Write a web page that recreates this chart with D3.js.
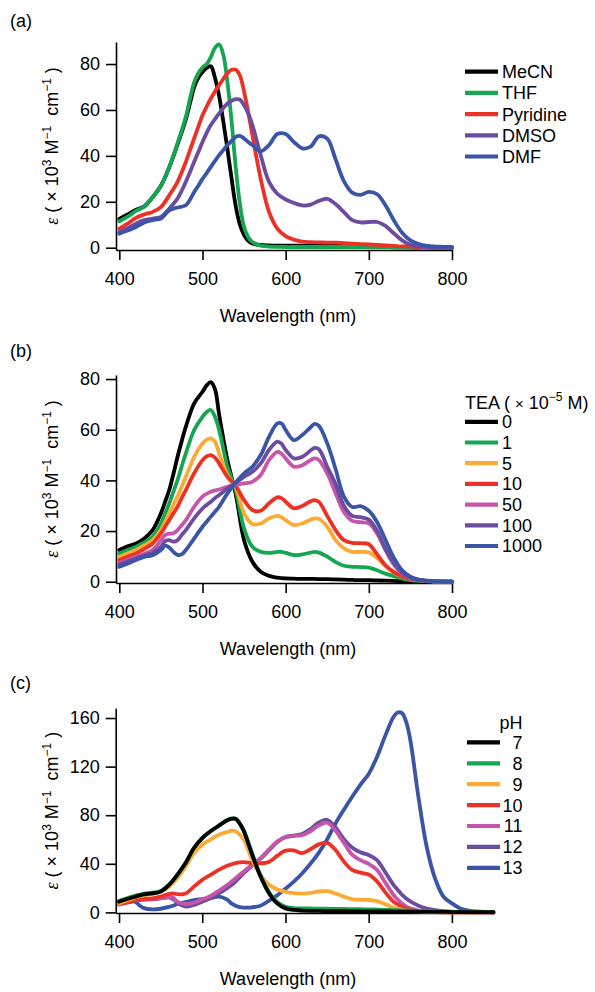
<!DOCTYPE html>
<html>
<head>
<meta charset="utf-8">
<script src="https://cdnjs.cloudflare.com/ajax/libs/d3/7.8.5/d3.min.js"></script>
<style>
  body { margin: 0; background: #fff; }
  svg { display: block; font-family: "Liberation Sans", Arial, sans-serif; }
</style>
</head>
<body>
<svg id="chart" width="595" height="992"></svg>
<script>
// ---------- data ----------
const xTicks = [400, 500, 600, 700, 800];
const yTicksA = [0, 20, 40, 60, 80];
const yTicksB = [0, 20, 40, 60, 80];
const yTicksC = [0, 40, 80, 120, 160];

// (a) solvents
const solventNames = ["MeCN", "THF", "Pyridine", "DMSO", "DMF"];
const wlA = [400,410,420,430,440,450,460,470,480,485,490,495,500,505,510,515,520,525,530,535,540,545,550,555,560,
  570,580,590,600,610,620,630,640,650,660,670,680,690,700,710,720,730,740,750,760,770,780,790,800];
const mecn = [12.5,14.5,16.5,18,22,27,35,45,56,63,70,74,76.5,78.3,79,74,66,55,43,30,18,10,5.5,3,1.8,
  1.2,1.0,0.9,0.9,0.9,0.9,0.9,0.9,0.8,0.8,0.7,0.6,0.5,0.4,0.3,0.3,0.2,0.2,0.1,0.1,0.1,0,0,0];
const thf = [11.5,13.5,16,18,22,27,35,45.5,57,65,72,76,78.5,80,83,87,88.5,84,72,55,35,19,9,4.5,2.5,
  0.9,0.5,0.4,0.3,0.3,0.3,0.3,0.3,0.3,0.3,0.3,0.3,0.3,0.2,0.2,0.2,0.2,0.1,0.1,0.1,0,0,0,0];
const pyridine = [8.3,10.5,13,14.5,15.6,17.7,22.8,28.7,37.4,42.5,47.6,52.7,57.7,61.5,65,68,70.8,73.5,76,77.5,77.5,75,68,59,49,
  30,15.6,8.3,5,3.5,2.6,2.4,2.3,2.2,2.2,2,1.8,1.6,1.4,1.2,1,0.8,0.6,0.5,0.3,0.2,0.1,0,0];
const dmso = [6.8,8.5,10.5,12,12.7,13.4,17,21.4,28.7,33,37.4,41.7,46,50,53.4,56,58.5,60.8,62.8,64,64.7,64.5,62,58.5,53.4,
  40.3,28.7,23.5,21,19.5,18.4,18.8,20.4,21.3,19,15.5,12,11,11.2,11.2,9.5,6.3,3.2,1.3,0.5,0.3,0.2,0.1,0];
const dmf = [6.1,7.5,9,11,12,12.7,16.3,17.5,18.5,21,24.3,27,30,32.5,35.2,37.8,40.3,42.5,44.7,46.5,48.3,48.7,47.6,46,44.7,
  42,44.7,49.5,49.5,46,43.3,44,48.5,47.5,38.5,29,24,23,24.3,23.3,18.5,12,6.5,3.2,1.6,0.8,0.5,0.4,0.3];

// (b) TEA titration (x10^-5 M)
const teaNames = ["0", "1", "5", "10", "50", "100", "1000"];
const wlB = [400,410,420,430,440,450,455,460,465,470,475,480,490,500,505,510,515,520,530,540,550,560,570,580,590,595,
  600,610,620,630,635,640,650,660,670,680,690,700,710,720,730,740,750,760,770,780,790,800];
const tea0 = [12.5,14,15.1,17.1,20.4,27,31.5,36.2,42.5,49.3,55.5,61.2,70.4,75,77.5,78.8,76,66,48,34.5,16.4,7.9,3.9,2.3,1.6,1.4,
  1.3,1.2,1.1,1.1,1.1,1.0,1.0,0.9,0.8,0.7,0.6,0.6,0.5,0.4,0.3,0.2,0.1,0.1,0,0,0,0];
const tea1 = [11.2,12.5,13.8,15.5,17.8,23,26.8,30.9,35.5,40.1,45.5,50.7,59.9,65.1,67,67.8,65.1,59.9,45.4,36,21,13.8,11.8,11.4,11.8,11.8,
  11.4,10.5,10.8,11.5,11.8,11.5,9.9,7.8,6.3,5.9,5.8,5.6,4.5,3.2,2.2,1.2,0.6,0.3,0.2,0.1,0,0];
const tea5 = [9.9,11.2,12.5,14.3,16.4,20.4,23.5,27,30.3,33.6,37.5,41.4,49.3,54.6,56,56.6,55.3,50.7,42.1,37.3,27,22.8,23,25,26,25.5,
  24.3,22.4,23,24.5,25,24.8,21.7,16.4,13.2,11.8,11.8,11.6,9.3,6.2,3.6,2,1.1,0.6,0.3,0.1,0,0];
const tea10 = [8.6,9.9,11.2,13,15.1,19.1,21.7,24.3,27,29.6,33,36.2,42.8,48,49.5,50,49,46.7,41.4,37.8,32.2,28.3,28,31,33.3,33,
  31.6,29,29.9,31.8,32.2,31.5,26,20.4,16.4,15.3,15.2,14.8,10.8,6.5,3.8,2.1,1.1,0.6,0.3,0.1,0,0];
const tea50 = [7.5,8.7,9.9,11,12.5,16.4,18.4,19,19.1,20.4,22.3,24.3,29.6,33.6,34.7,35.5,36,36.4,37.5,38.3,38.8,39.5,42.1,48,51.3,50.5,
  48.7,45.4,46,48,48.7,48,42.8,35,27.5,24,23.5,23,19,12.5,6.8,3.2,1.4,0.7,0.3,0.1,0,0];
const tea100 = [6.8,8,9.2,10.3,11.4,13.8,16,16.4,15.8,16.4,18.5,20.4,25,28.9,30.3,31.6,33,34.2,36.8,39,41.4,43.4,46.7,52,55.3,54.5,
  52,48.7,49.3,51.8,52.8,52.3,45.4,38.5,30,26,25.5,24.5,20,13,7.5,3.6,1.6,0.7,0.3,0.1,0,0];
const tea1000 = [5.9,7.2,8.6,9.8,10.5,12.5,14.2,13.5,11.8,10.6,10.8,12.5,17.1,21.7,23.7,25.7,27.6,29.6,34.9,39.2,42.8,45.4,50,57.2,62.5,62.5,
  59.9,55.9,57.9,61,62.3,61.5,54.6,44.5,33.6,29.5,29.8,28,23.5,16.5,9.5,4.5,2,0.8,0.4,0.2,0.1,0];

// (c) pH
const phNames = ["7", "8", "9", "10", "11", "12", "13"];
const wlC = [400,410,420,425,430,440,450,460,465,470,480,490,500,510,520,530,535,540,545,550,560,570,580,590,600,
  610,620,630,640,650,660,670,680,690,700,710,720,730,735,740,745,750,760,770,780,790,800,810,820,830,840,850];
const ph7 = [8.8,11,13,14,14.8,15.7,17.1,22.6,26.5,30.9,40.6,53,61.2,66.8,71.4,75.9,77,77,73.1,66.8,47.4,29.5,16,7.4,3.3,
  2,1.5,1.3,1.2,1.1,1,1,1,0.9,0.9,0.8,0.8,0.7,0.7,0.7,0.6,0.6,0.5,0.5,0.4,0.4,0.3,0.3,0.2,0.2,0.2,0.1];
const ph8 = [9.5,11.8,13.8,14.6,15.4,16.3,17.6,22.8,26.5,30.9,40.6,53,61.2,66.8,71.4,75.9,77.3,77.2,73.5,67.5,48.5,30.5,17,8.5,4.6,
  3.6,3.3,3.2,3.1,3,2.9,2.8,2.7,2.6,2.5,2.3,2.1,1.9,1.8,1.7,1.6,1.5,1.3,1.1,0.9,0.7,0.5,0.4,0.3,0.2,0.2,0.1];
const ph9 = [7.4,10,12.4,13.3,14,15.2,17.1,21.2,24.5,28.1,37.8,48.8,55.7,59.9,64,66.2,67.2,66.8,64,59.9,43.3,31,23,19,17,
  15.8,15.5,16,17.2,17.5,15.5,13,11,10.3,10.2,9.3,6.8,3.8,2.9,2.2,1.6,1.1,0.6,0.3,0.2,0.1,0.1,0,0,0,0,0];
const ph10 = [6.9,8.5,10.2,10.9,11.2,11.6,13,15.2,15.7,15,15.5,21.2,26.8,30.9,35,38.3,39.5,40.6,41.2,41.4,40.6,40.4,41.5,46.5,50.8,
  51,48.8,52,56,57.2,51.5,42,35,32.7,31.2,25.5,16.5,8.7,6.5,4.5,3.1,1.9,0.8,0.4,0.2,0.1,0,0,0,0,0,0];
const ph11 = [6.9,8.6,10.2,10.6,10.8,11,11.8,12.8,12.4,8.8,6.9,8,10.8,13.5,17.9,22.6,25.3,28.1,31,33.7,39.2,44.7,51.6,58.3,62,
  63,63.5,66.8,71.5,73.8,67.5,57.5,47.5,43,40,35,24.5,14.3,10.5,7.3,5,3.3,1.5,0.7,0.4,0.2,0.1,0,0,0,0,0];
const ph12 = [6.5,8,9.6,10.2,10.5,10.8,11.5,12.3,11,8,4.7,6.1,8.8,11.6,15.7,19.9,22.5,25.4,28.8,32.3,38.6,44.1,51,57.7,62,
  63.2,64.5,68.5,74,76.2,70,60.5,53.5,49.5,47.3,43,33,22.5,18.5,14.5,11.5,9,5.5,3.2,1.8,1,0.6,0.3,0.1,0,0,0];
const ph13 = [8.8,10,8.5,5.5,3.5,2.5,3,4.5,5.5,6.9,8.5,10.2,11,11.8,13,10.5,7.4,5.5,4.3,4,4.2,5.5,9.5,14,19.5,
  25.3,32,40,49,60,73,84.3,95,105,114,128,145.5,161,164.5,164,157,142,94,53,27.5,12.9,7.4,3.3,1.5,0.8,0.5,0.4];

const colorsA = ["#000000", "#14a650", "#ec3226", "#6b4c9f", "#3a55a5"];
const colorsB = ["#000000", "#14a650", "#fbaa33", "#ec3226", "#c556a9", "#6b4c9f", "#3a55a5"];
const colorsC = ["#000000", "#14a650", "#fbaa33", "#ec3226", "#c556a9", "#6b4c9f", "#3a55a5"];

// ---------- drawing ----------
const svg = d3.select("#chart");
const FONT = 18;

let addYTitle = (g, cx, cy) => {
  let t = g.append("text")
    .attr("transform", `translate(${cx},${cy}) rotate(-90)`)
    .attr("text-anchor", "middle")
    .attr("font-size", FONT)
    .style("white-space", "pre");
  t.append("tspan")
    .attr("font-style", "italic")
    .attr("font-family", "'Liberation Serif', 'DejaVu Serif', serif")
    .text("ε");
  t.append("tspan").text(" ( × 10");
  t.append("tspan").attr("font-size", 12).attr("dy", -7).text("3");
  t.append("tspan").attr("dy", 7).text(" M");
  t.append("tspan").attr("font-size", 12).attr("dy", -7).text("−1");
  t.append("tspan").attr("dy", 7).text("  cm");
  t.append("tspan").attr("font-size", 12).attr("dy", -7).text("−1");
  t.append("tspan").attr("dy", 7).text(" )");
};

let styleAxis = (g) => {
  g.attr("font-size", FONT).attr("font-family", null);
  g.selectAll("path.domain").attr("stroke", "#000").attr("stroke-width", 1.6);
  g.selectAll(".tick line").attr("stroke", "#000").attr("stroke-width", 1.6);
  g.selectAll(".tick text").attr("fill", "#000");
};

let drawPanel = (p) => {
  let g = svg.append("g").attr("class", "panel");

  let x = d3.scaleLinear().domain(p.xDomain).range(p.xRange);
  let y = d3.scaleLinear().domain(p.yDomain).range(p.yRange);

  g.append("text")
    .attr("x", 10).attr("y", p.labelY)
    .attr("font-size", FONT)
    .text(p.label);

  g.append("g")
    .attr("transform", `translate(0, ${p.yRange[0]})`)
    .call(d3.axisBottom(x).tickValues(xTicks).tickSize(10).tickSizeOuter(0).tickPadding(12))
    .call(styleAxis);

  g.append("g")
    .attr("transform", `translate(${p.xRange[0]}, 0)`)
    .call(d3.axisLeft(y).tickValues(p.yTicks).tickSize(10).tickSizeOuter(0).tickPadding(6))
    .call(styleAxis);

  g.append("text")
    .attr("x", 288).attr("y", p.yRange[0] + 72)
    .attr("text-anchor", "middle")
    .attr("font-size", FONT)
    .text("Wavelength (nm)");

  addYTitle(g, 58, (p.yRange[0] + p.yRange[1]) / 2);

  let line = d3.line()
    .x(d => x(d[0]))
    .y(d => y(d[1]))
    .curve(d3.curveCatmullRom.alpha(0.5));

  let curves = p.series.map((vals, i) => ({
    i: i,
    pts: p.wl.map((w, k) => [w, vals[k]])
  }));

  g.append("g")
    .selectAll("path")
    .data(p.order.map(i => curves[i]))
    .enter()
    .append("path")
    .attr("d", d => line(d.pts))
    .attr("fill", "none")
    .attr("stroke", d => p.colors[d.i])
    .attr("stroke-width", 3.8)
    .attr("stroke-linejoin", "round")
    .attr("stroke-linecap", "round");

  // legend
  let lg = g.append("g");
  let rows = lg.selectAll("g.row")
    .data(p.names)
    .enter()
    .append("g")
    .attr("class", "row")
    .attr("transform", (d, i) => `translate(0, ${p.legend.y0 + i * p.legend.dy})`);

  rows.append("line")
    .attr("x1", p.legend.x1).attr("x2", p.legend.x2)
    .attr("stroke", (d, i) => p.colors[i])
    .attr("stroke-width", 4.2);

  rows.append("text")
    .attr("x", p.legend.tx)
    .attr("y", 6.4)
    .attr("text-anchor", p.legend.anchor)
    .attr("font-size", FONT)
    .text(d => d);

  return lg;
};

drawPanel({
  label: "(a)", labelY: 27,
  wl: wlA, series: [mecn, thf, pyridine, dmso, dmf], names: solventNames, colors: colorsA,
  order: [0, 1, 2, 3, 4],
  xDomain: [396, 800], xRange: [116, 452],
  yDomain: [-1, 89.6], yRange: [250, 42], yTicks: yTicksA,
  legend: { x1: 465, x2: 498, tx: 502, anchor: "start", y0: 71.7, dy: 21.2 }
});

let lgB = drawPanel({
  label: "(b)", labelY: 357,
  wl: wlB, series: [tea0, tea1, tea5, tea10, tea50, tea100, tea1000], names: teaNames, colors: colorsB,
  order: [0, 1, 2, 3, 4, 5, 6],
  xDomain: [396, 800], xRange: [116, 452],
  yDomain: [-0.5, 81.6], yRange: [583, 375], yTicks: yTicksB,
  legend: { x1: 465, x2: 498, tx: 502, anchor: "start", y0: 421.8, dy: 20.7 }
});

let teaTitle = lgB.append("text")
  .attr("x", 465).attr("y", 408.5)
  .attr("font-size", FONT)
  .style("white-space", "pre");
teaTitle.append("tspan").text("TEA ( ");
teaTitle.append("tspan").attr("font-size", 15).text("×");
teaTitle.append("tspan").text(" 10");
teaTitle.append("tspan").attr("font-size", 12).attr("dy", -8).text("−5");
teaTitle.append("tspan").attr("dy", 8).text(" M)");

let lgC = drawPanel({
  label: "(c)", labelY: 689,
  wl: wlC, series: [ph7, ph8, ph9, ph10, ph11, ph12, ph13], names: phNames, colors: colorsC,
  order: [6, 5, 4, 3, 2, 1, 0],
  xDomain: [396, 850], xRange: [115.7, 493.5],
  yDomain: [-0.5, 168], yRange: [913, 708.3], yTicks: yTicksC,
  legend: { x1: 467, x2: 500, tx: 522.5, anchor: "end", y0: 742.4, dy: 20.9 }
});

lgC.append("text")
  .attr("x", 522.5).attr("y", 729)
  .attr("text-anchor", "end")
  .attr("font-size", FONT)
  .text("pH");
</script>
</body>
</html>
